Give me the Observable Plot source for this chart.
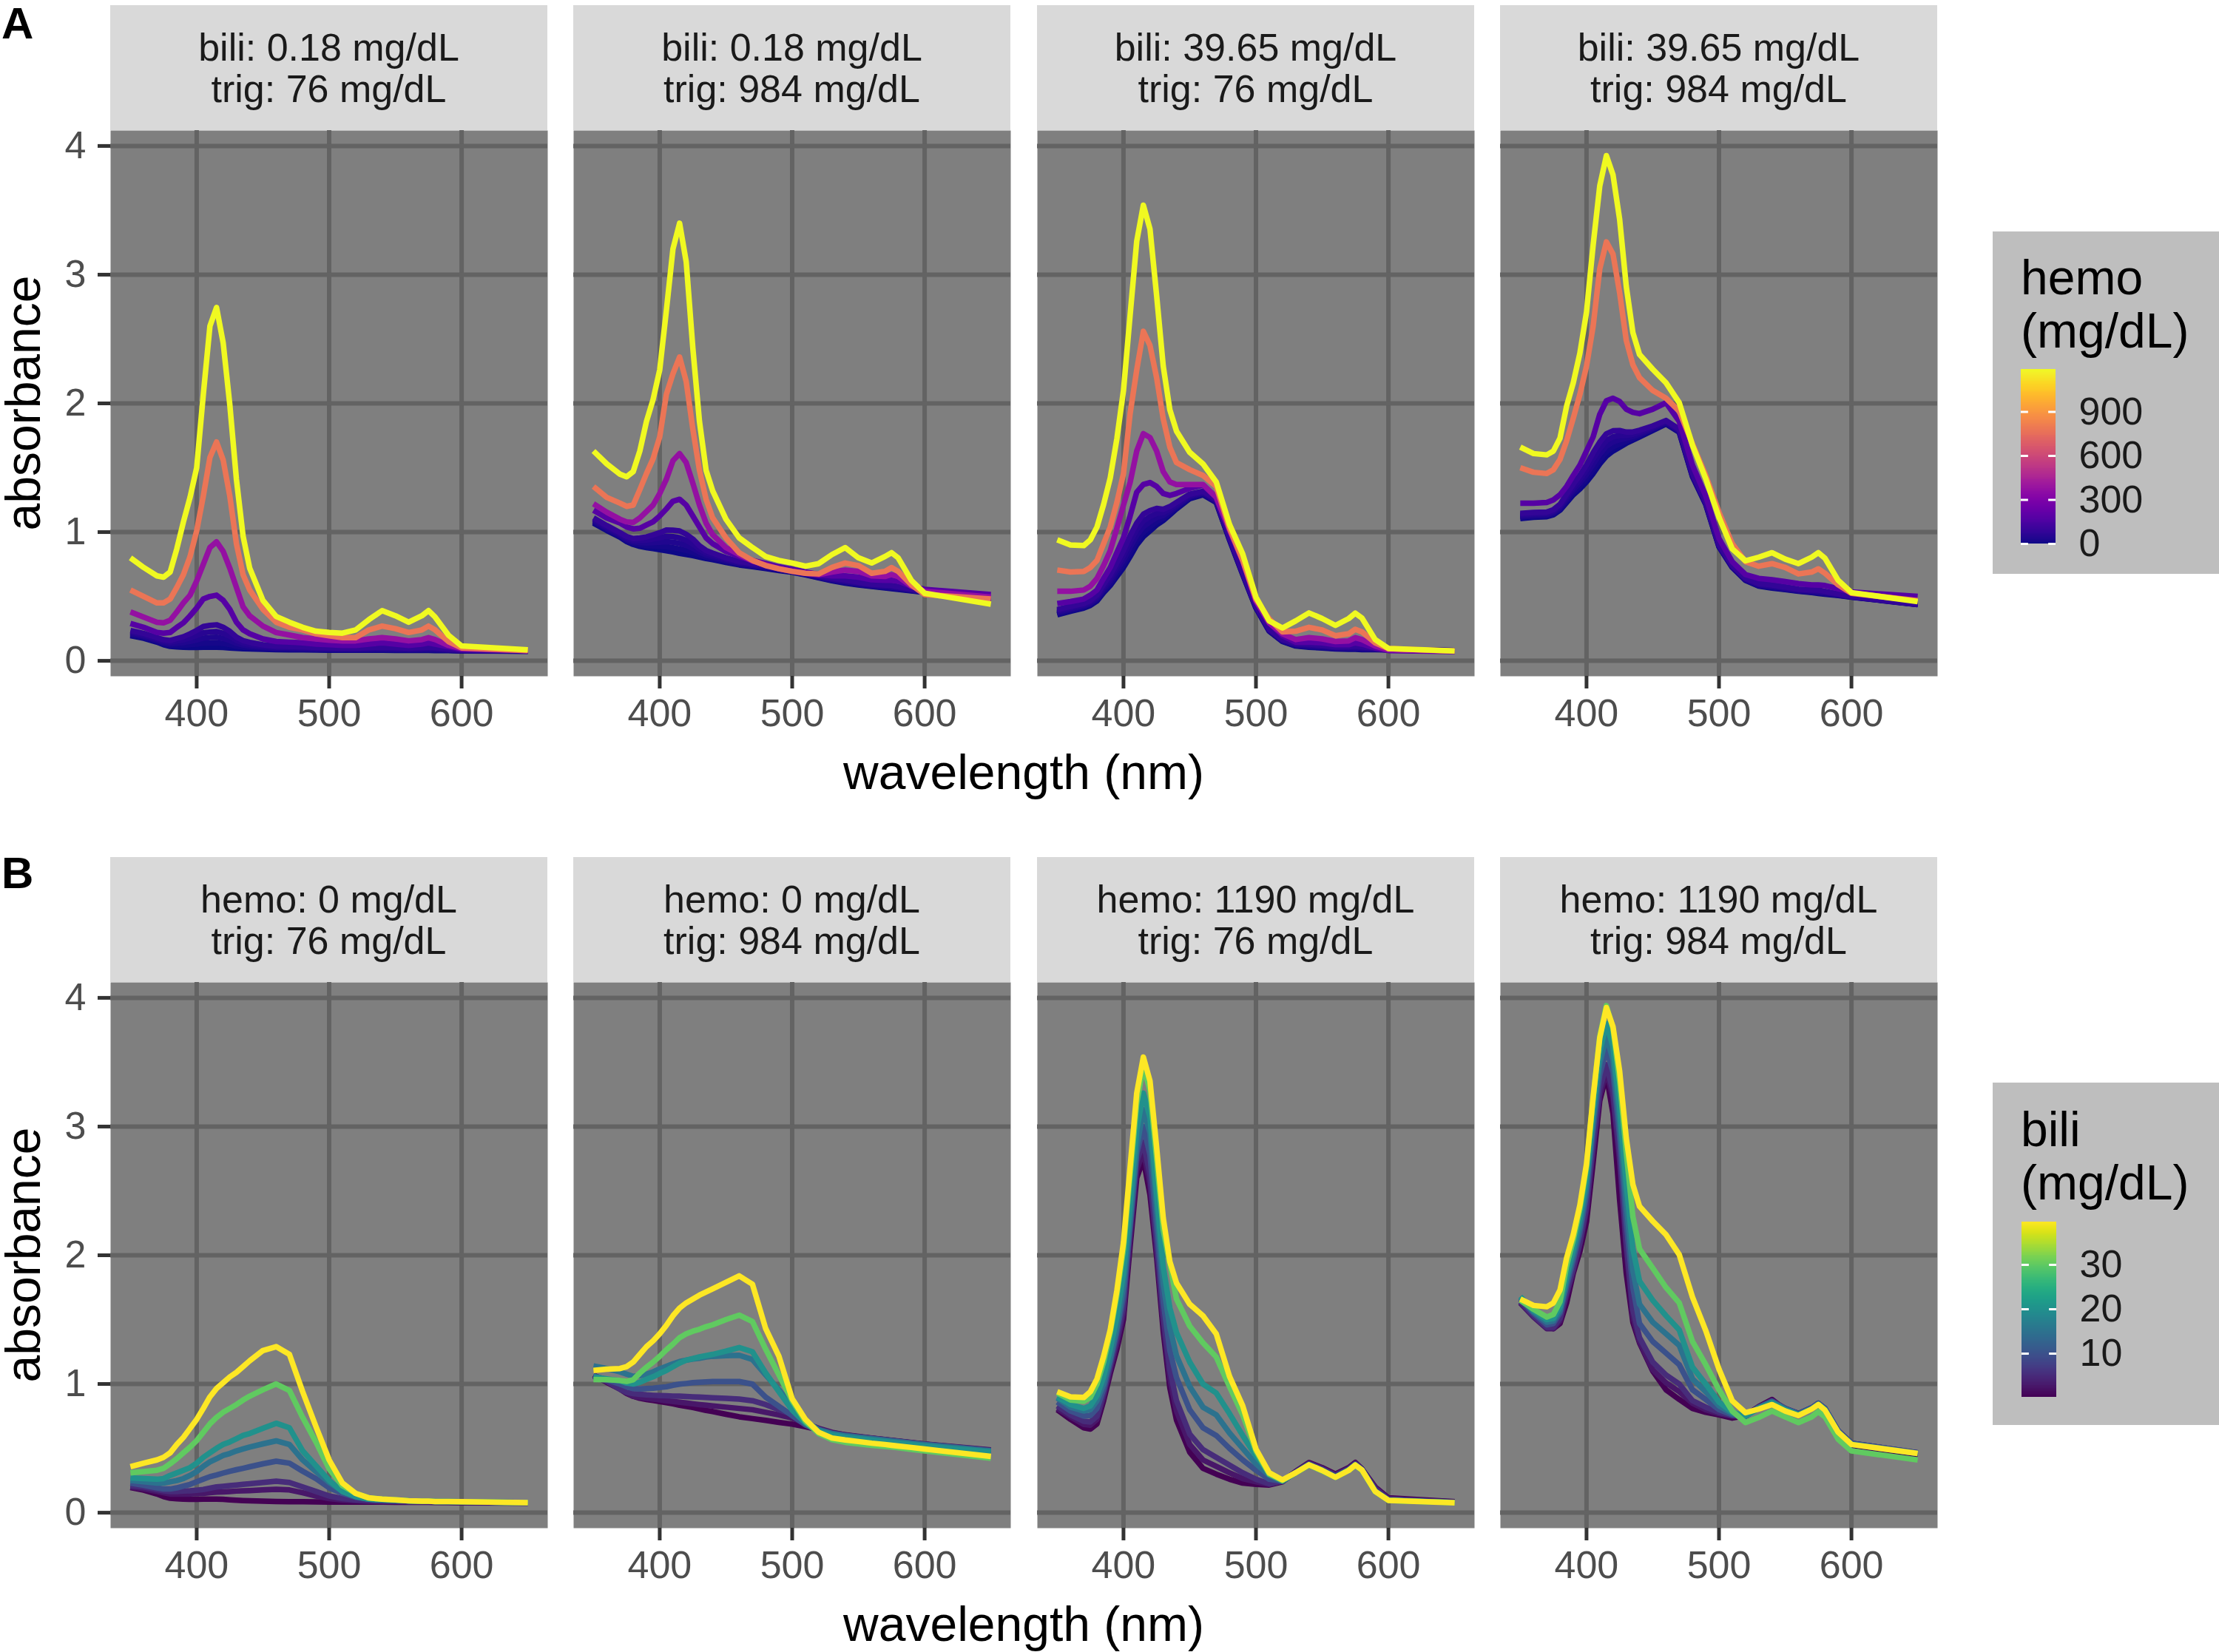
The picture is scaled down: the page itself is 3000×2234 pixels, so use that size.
<!DOCTYPE html>
<html>
<head>
<meta charset="utf-8">
<script src="https://cdn.jsdelivr.net/npm/d3@7"></script>
<script src="https://cdn.jsdelivr.net/npm/@observablehq/plot@0.6"></script>
<style>
  body { margin: 0; background: #ffffff; }
  #root { position: relative; width: 3000px; height: 2234px; overflow: hidden; background: #ffffff;
          font-family: "Liberation Sans", Arial, Helvetica, sans-serif; }
  .strip { position: absolute; background: #D9D9D9; color: #1A1A1A; font-size: 52px; line-height: 56px;
           text-align: center; display: flex; flex-direction: column; justify-content: center; }
  .txt { position: absolute; white-space: nowrap; color: #000; }
</style>
</head>
<body>
<div id="root"></div>
<script>
// ---------------- data ----------------
const wavelength = [350, 360, 370, 375, 380, 385, 390, 395, 400, 405, 410, 415, 420, 425, 430, 435, 440, 450, 460, 470, 480, 490, 500, 510, 520, 530, 540, 550, 560, 570, 575, 580, 590, 600, 650];
const hemoLevels = [0, 15, 35, 55, 80, 180, 370, 780, 1190];
const biliLevels = [0.18, 2.5, 5, 10, 15, 20, 30, 39.65];

const xTicks = [400, 500, 600];
const yTicks = [0, 1, 2, 3, 4];
const hemoTicks = [0, 300, 600, 900];
const biliTicks = [10, 20, 30];

const stripA_bili = ["0.18", "0.18", "39.65", "39.65"];
const stripA_trig = ["76", "984", "76", "984"];
const stripB_hemo = ["0", "0", "1190", "1190"];
const stripB_trig = ["76", "984", "76", "984"];

// samples shared between row A and row B (hemo / bili / trig)
const s_h0_b018_t76 = [0.195, 0.175, 0.145, 0.125, 0.112, 0.108, 0.105, 0.104, 0.104, 0.105, 0.106, 0.106, 0.104, 0.100, 0.097, 0.094, 0.092, 0.089, 0.087, 0.086, 0.085, 0.084, 0.083, 0.083, 0.082, 0.082, 0.082, 0.081, 0.081, 0.081, 0.081, 0.080, 0.079, 0.077, 0.075];
const s_h0_b018_t984 = [1.070, 1.013, 0.961, 0.927, 0.904, 0.889, 0.880, 0.872, 0.863, 0.855, 0.846, 0.835, 0.826, 0.817, 0.806, 0.794, 0.786, 0.765, 0.745, 0.731, 0.717, 0.702, 0.688, 0.668, 0.645, 0.622, 0.604, 0.590, 0.578, 0.567, 0.561, 0.555, 0.544, 0.532, 0.480];
const s_h0_b3965_t76 = [0.357, 0.385, 0.410, 0.430, 0.465, 0.530, 0.585, 0.655, 0.725, 0.810, 0.900, 0.965, 1.010, 1.055, 1.090, 1.135, 1.180, 1.260, 1.290, 1.230, 0.940, 0.670, 0.410, 0.230, 0.150, 0.115, 0.105, 0.100, 0.092, 0.090, 0.090, 0.087, 0.087, 0.085, 0.078];
const s_h0_b3965_t984 = [1.105, 1.115, 1.120, 1.135, 1.170, 1.230, 1.290, 1.335, 1.390, 1.455, 1.530, 1.590, 1.630, 1.660, 1.690, 1.715, 1.740, 1.790, 1.840, 1.775, 1.430, 1.215, 0.885, 0.725, 0.625, 0.580, 0.565, 0.553, 0.540, 0.530, 0.524, 0.518, 0.507, 0.495, 0.437];
const s_h1190_b018_t76 = [0.800, 0.725, 0.660, 0.650, 0.690, 0.870, 1.080, 1.270, 1.500, 2.070, 2.600, 2.745, 2.470, 1.990, 1.410, 0.970, 0.720, 0.470, 0.345, 0.300, 0.260, 0.230, 0.220, 0.215, 0.240, 0.320, 0.390, 0.350, 0.300, 0.350, 0.390, 0.340, 0.200, 0.115, 0.085];
const s_h1190_b018_t984 = [1.630, 1.530, 1.450, 1.430, 1.470, 1.630, 1.860, 2.030, 2.260, 2.720, 3.200, 3.400, 3.100, 2.430, 1.860, 1.480, 1.320, 1.100, 0.955, 0.880, 0.810, 0.780, 0.760, 0.735, 0.755, 0.825, 0.880, 0.800, 0.760, 0.810, 0.840, 0.800, 0.625, 0.525, 0.440];
const s_h1190_b3965_t76 = [0.940, 0.900, 0.895, 0.940, 1.040, 1.215, 1.420, 1.725, 2.100, 2.685, 3.260, 3.540, 3.355, 2.840, 2.290, 1.950, 1.785, 1.620, 1.530, 1.390, 1.060, 0.830, 0.495, 0.310, 0.255, 0.310, 0.372, 0.328, 0.275, 0.328, 0.370, 0.332, 0.165, 0.096, 0.077];
const s_h1190_b3965_t984 = [1.660, 1.610, 1.600, 1.630, 1.730, 1.980, 2.160, 2.390, 2.710, 3.230, 3.690, 3.925, 3.775, 3.430, 2.910, 2.550, 2.380, 2.265, 2.160, 2.005, 1.675, 1.415, 1.115, 0.870, 0.777, 0.805, 0.840, 0.790, 0.755, 0.805, 0.840, 0.797, 0.625, 0.530, 0.460];

// Row A, panel 1: bili 0.18, trig 76 (by hemo)
const a1_h15 = [0.203, 0.182, 0.152, 0.133, 0.121, 0.121, 0.121, 0.125, 0.130, 0.137, 0.139, 0.140, 0.135, 0.126, 0.114, 0.106, 0.102, 0.096, 0.092, 0.091, 0.090, 0.088, 0.087, 0.086, 0.085, 0.086, 0.087, 0.085, 0.084, 0.085, 0.086, 0.084, 0.082, 0.078, 0.075];
const a1_h35 = [0.213, 0.192, 0.161, 0.142, 0.133, 0.137, 0.141, 0.151, 0.162, 0.176, 0.181, 0.183, 0.174, 0.157, 0.136, 0.122, 0.114, 0.104, 0.099, 0.097, 0.095, 0.093, 0.091, 0.090, 0.089, 0.091, 0.093, 0.090, 0.088, 0.090, 0.092, 0.090, 0.085, 0.079, 0.076];
const a1_h55 = [0.224, 0.201, 0.170, 0.152, 0.144, 0.154, 0.162, 0.178, 0.196, 0.218, 0.224, 0.227, 0.214, 0.190, 0.158, 0.138, 0.127, 0.113, 0.106, 0.104, 0.102, 0.098, 0.096, 0.094, 0.093, 0.096, 0.099, 0.096, 0.093, 0.096, 0.099, 0.095, 0.088, 0.081, 0.077];
const a1_h80 = [0.236, 0.213, 0.180, 0.164, 0.158, 0.173, 0.187, 0.210, 0.236, 0.266, 0.275, 0.280, 0.261, 0.229, 0.184, 0.157, 0.143, 0.124, 0.114, 0.111, 0.109, 0.104, 0.101, 0.099, 0.098, 0.103, 0.107, 0.102, 0.098, 0.102, 0.106, 0.102, 0.092, 0.083, 0.077];
const a1_h180 = [0.290, 0.260, 0.220, 0.215, 0.220, 0.260, 0.295, 0.350, 0.410, 0.480, 0.500, 0.510, 0.470, 0.400, 0.300, 0.240, 0.210, 0.170, 0.150, 0.145, 0.140, 0.130, 0.125, 0.120, 0.120, 0.130, 0.140, 0.130, 0.120, 0.130, 0.140, 0.130, 0.110, 0.090, 0.080];
const a1_h370 = [0.380, 0.340, 0.300, 0.295, 0.315, 0.380, 0.450, 0.510, 0.620, 0.750, 0.880, 0.925, 0.850, 0.720, 0.570, 0.420, 0.350, 0.270, 0.220, 0.200, 0.180, 0.170, 0.160, 0.155, 0.155, 0.170, 0.180, 0.170, 0.155, 0.165, 0.180, 0.165, 0.120, 0.095, 0.080];
const a1_h780 = [0.550, 0.500, 0.450, 0.450, 0.480, 0.570, 0.670, 0.810, 1.010, 1.280, 1.580, 1.700, 1.560, 1.280, 0.910, 0.670, 0.550, 0.400, 0.300, 0.260, 0.240, 0.210, 0.195, 0.180, 0.180, 0.240, 0.270, 0.250, 0.220, 0.240, 0.270, 0.240, 0.150, 0.100, 0.080];

// Row A, panel 2: bili 0.18, trig 984
const a2_h15 = [1.078, 1.020, 0.968, 0.935, 0.913, 0.902, 0.896, 0.893, 0.889, 0.887, 0.879, 0.869, 0.857, 0.843, 0.823, 0.806, 0.796, 0.772, 0.750, 0.736, 0.722, 0.706, 0.692, 0.671, 0.648, 0.626, 0.609, 0.594, 0.581, 0.571, 0.566, 0.559, 0.547, 0.533, 0.480];
const a2_h35 = [1.088, 1.030, 0.977, 0.944, 0.925, 0.918, 0.916, 0.919, 0.921, 0.926, 0.921, 0.912, 0.896, 0.874, 0.845, 0.822, 0.808, 0.780, 0.757, 0.742, 0.727, 0.711, 0.696, 0.675, 0.652, 0.631, 0.615, 0.599, 0.585, 0.576, 0.572, 0.565, 0.550, 0.534, 0.481];
const a2_h55 = [1.099, 1.039, 0.986, 0.954, 0.936, 0.935, 0.937, 0.946, 0.955, 0.968, 0.964, 0.956, 0.936, 0.907, 0.867, 0.838, 0.821, 0.789, 0.764, 0.749, 0.734, 0.716, 0.701, 0.679, 0.656, 0.636, 0.621, 0.605, 0.590, 0.582, 0.579, 0.570, 0.553, 0.536, 0.482];
const a2_h80 = [1.111, 1.051, 0.996, 0.966, 0.950, 0.954, 0.962, 0.978, 0.995, 1.016, 1.015, 1.009, 0.983, 0.946, 0.893, 0.857, 0.837, 0.800, 0.772, 0.756, 0.741, 0.722, 0.706, 0.684, 0.661, 0.643, 0.629, 0.611, 0.595, 0.588, 0.586, 0.577, 0.557, 0.538, 0.482];
const a2_h180 = [1.170, 1.110, 1.070, 1.040, 1.025, 1.030, 1.055, 1.080, 1.125, 1.180, 1.240, 1.255, 1.210, 1.125, 1.040, 0.955, 0.910, 0.850, 0.810, 0.780, 0.755, 0.730, 0.710, 0.690, 0.670, 0.660, 0.660, 0.650, 0.630, 0.625, 0.625, 0.620, 0.580, 0.555, 0.515];
const a2_h370 = [1.220, 1.155, 1.100, 1.080, 1.075, 1.110, 1.160, 1.210, 1.300, 1.410, 1.555, 1.610, 1.540, 1.380, 1.210, 1.070, 0.980, 0.880, 0.825, 0.775, 0.745, 0.715, 0.695, 0.680, 0.670, 0.690, 0.705, 0.695, 0.660, 0.655, 0.670, 0.655, 0.580, 0.540, 0.495];
const a2_h780 = [1.355, 1.270, 1.225, 1.200, 1.210, 1.330, 1.455, 1.570, 1.740, 2.070, 2.230, 2.360, 2.170, 1.800, 1.480, 1.255, 1.110, 0.955, 0.840, 0.780, 0.740, 0.715, 0.695, 0.680, 0.675, 0.725, 0.760, 0.740, 0.680, 0.695, 0.725, 0.695, 0.590, 0.515, 0.480];

// Row A, panel 3: bili 39.65, trig 76
const a3_h15 = [0.365, 0.392, 0.417, 0.438, 0.474, 0.543, 0.601, 0.676, 0.751, 0.842, 0.933, 0.999, 1.041, 1.081, 1.107, 1.147, 1.190, 1.267, 1.295, 1.235, 0.945, 0.675, 0.414, 0.233, 0.153, 0.119, 0.110, 0.104, 0.095, 0.094, 0.095, 0.091, 0.090, 0.086, 0.078];
const a3_h35 = [0.375, 0.402, 0.426, 0.447, 0.486, 0.559, 0.621, 0.702, 0.783, 0.881, 0.975, 1.042, 1.080, 1.112, 1.129, 1.163, 1.202, 1.275, 1.302, 1.241, 0.950, 0.679, 0.418, 0.237, 0.157, 0.124, 0.116, 0.109, 0.099, 0.099, 0.101, 0.097, 0.093, 0.087, 0.079];
const a3_h55 = [0.386, 0.411, 0.435, 0.457, 0.497, 0.576, 0.642, 0.729, 0.817, 0.923, 1.018, 1.086, 1.120, 1.145, 1.151, 1.179, 1.215, 1.284, 1.309, 1.248, 0.957, 0.684, 0.423, 0.241, 0.161, 0.129, 0.122, 0.115, 0.104, 0.105, 0.108, 0.102, 0.096, 0.089, 0.080];
const a3_h80 = [0.398, 0.423, 0.445, 0.469, 0.511, 0.595, 0.667, 0.761, 0.857, 0.971, 1.069, 1.139, 1.167, 1.184, 1.177, 1.198, 1.231, 1.295, 1.317, 1.255, 0.964, 0.690, 0.428, 0.246, 0.166, 0.136, 0.130, 0.121, 0.109, 0.111, 0.115, 0.109, 0.100, 0.091, 0.080];
const a3_h180 = [0.445, 0.460, 0.480, 0.510, 0.550, 0.640, 0.725, 0.840, 0.955, 1.125, 1.310, 1.370, 1.385, 1.355, 1.300, 1.285, 1.300, 1.340, 1.365, 1.270, 1.010, 0.770, 0.465, 0.295, 0.195, 0.145, 0.145, 0.140, 0.125, 0.125, 0.140, 0.130, 0.100, 0.080, 0.072];
const a3_h370 = [0.540, 0.540, 0.550, 0.580, 0.640, 0.740, 0.855, 1.030, 1.210, 1.385, 1.630, 1.765, 1.735, 1.630, 1.470, 1.390, 1.370, 1.370, 1.370, 1.270, 1.020, 0.780, 0.465, 0.295, 0.210, 0.165, 0.180, 0.170, 0.150, 0.155, 0.180, 0.165, 0.115, 0.085, 0.075];
const a3_h780 = [0.705, 0.690, 0.695, 0.725, 0.780, 0.910, 1.040, 1.230, 1.455, 1.920, 2.260, 2.560, 2.450, 2.200, 1.880, 1.660, 1.540, 1.485, 1.440, 1.355, 1.030, 0.780, 0.480, 0.325, 0.225, 0.230, 0.260, 0.240, 0.195, 0.210, 0.245, 0.225, 0.140, 0.095, 0.075];

// Row A, panel 4: bili 39.65, trig 984 (no 370 mg/dL curve)
const a4_h15 = [1.113, 1.122, 1.127, 1.143, 1.179, 1.243, 1.306, 1.356, 1.416, 1.487, 1.563, 1.624, 1.661, 1.686, 1.707, 1.727, 1.750, 1.797, 1.845, 1.780, 1.435, 1.219, 0.889, 0.728, 0.628, 0.584, 0.570, 0.557, 0.543, 0.534, 0.529, 0.522, 0.510, 0.496, 0.437];
const a4_h35 = [1.123, 1.132, 1.136, 1.152, 1.191, 1.259, 1.326, 1.382, 1.448, 1.526, 1.605, 1.667, 1.700, 1.717, 1.729, 1.743, 1.762, 1.805, 1.852, 1.786, 1.440, 1.223, 0.893, 0.732, 0.632, 0.589, 0.576, 0.562, 0.547, 0.539, 0.535, 0.528, 0.513, 0.497, 0.438];
const a4_h55 = [1.134, 1.141, 1.145, 1.162, 1.202, 1.276, 1.347, 1.409, 1.482, 1.568, 1.648, 1.711, 1.740, 1.750, 1.751, 1.759, 1.775, 1.814, 1.859, 1.793, 1.447, 1.229, 0.898, 0.736, 0.636, 0.594, 0.582, 0.568, 0.552, 0.545, 0.542, 0.533, 0.516, 0.499, 0.439];
const a4_h80 = [1.146, 1.153, 1.155, 1.174, 1.216, 1.295, 1.372, 1.441, 1.522, 1.616, 1.699, 1.764, 1.787, 1.789, 1.777, 1.778, 1.791, 1.825, 1.867, 1.800, 1.454, 1.235, 0.903, 0.741, 0.641, 0.601, 0.590, 0.574, 0.557, 0.551, 0.549, 0.540, 0.520, 0.501, 0.439];
const a4_h180 = [1.225, 1.225, 1.230, 1.250, 1.290, 1.355, 1.440, 1.520, 1.630, 1.740, 1.915, 2.020, 2.040, 2.015, 1.955, 1.930, 1.920, 1.955, 2.005, 1.860, 1.520, 1.280, 0.950, 0.770, 0.670, 0.640, 0.630, 0.615, 0.600, 0.590, 0.590, 0.585, 0.560, 0.535, 0.500];
const a4_h780 = [1.500, 1.465, 1.455, 1.485, 1.565, 1.710, 1.885, 2.070, 2.290, 2.600, 3.045, 3.255, 3.160, 2.860, 2.490, 2.300, 2.200, 2.100, 2.040, 1.940, 1.685, 1.440, 1.155, 0.910, 0.770, 0.735, 0.755, 0.725, 0.675, 0.690, 0.715, 0.680, 0.590, 0.525, 0.467];

// Row B, panel 1: hemo 0, trig 76 (by bili)
const b1_b2_5 = [0.200, 0.185, 0.165, 0.155, 0.145, 0.145, 0.145, 0.145, 0.148, 0.150, 0.155, 0.160, 0.162, 0.165, 0.168, 0.170, 0.172, 0.177, 0.182, 0.177, 0.155, 0.130, 0.110, 0.098, 0.093, 0.088, 0.086, 0.085, 0.084, 0.083, 0.083, 0.082, 0.081, 0.079, 0.076];
const b1_b5 = [0.210, 0.200, 0.180, 0.170, 0.165, 0.165, 0.168, 0.170, 0.175, 0.180, 0.190, 0.200, 0.205, 0.210, 0.215, 0.220, 0.225, 0.235, 0.245, 0.235, 0.200, 0.165, 0.130, 0.110, 0.100, 0.095, 0.090, 0.088, 0.086, 0.085, 0.085, 0.084, 0.083, 0.081, 0.077];
const b1_b10 = [0.230, 0.213, 0.193, 0.184, 0.184, 0.193, 0.207, 0.220, 0.240, 0.260, 0.280, 0.293, 0.308, 0.322, 0.334, 0.345, 0.357, 0.380, 0.400, 0.385, 0.322, 0.265, 0.193, 0.150, 0.120, 0.105, 0.100, 0.097, 0.092, 0.090, 0.090, 0.087, 0.087, 0.085, 0.078];
const b1_b15 = [0.250, 0.240, 0.230, 0.230, 0.240, 0.250, 0.265, 0.290, 0.320, 0.360, 0.395, 0.420, 0.445, 0.460, 0.480, 0.495, 0.510, 0.535, 0.558, 0.530, 0.410, 0.320, 0.235, 0.165, 0.125, 0.105, 0.100, 0.097, 0.092, 0.090, 0.090, 0.087, 0.087, 0.085, 0.078];
const b1_b20 = [0.270, 0.265, 0.260, 0.265, 0.290, 0.310, 0.330, 0.350, 0.385, 0.430, 0.465, 0.500, 0.530, 0.550, 0.575, 0.600, 0.615, 0.655, 0.695, 0.660, 0.480, 0.365, 0.250, 0.165, 0.125, 0.105, 0.100, 0.097, 0.092, 0.090, 0.090, 0.087, 0.087, 0.085, 0.078];
const b1_b30 = [0.310, 0.320, 0.330, 0.345, 0.380, 0.420, 0.465, 0.510, 0.560, 0.625, 0.690, 0.740, 0.780, 0.810, 0.840, 0.875, 0.905, 0.955, 1.000, 0.950, 0.740, 0.550, 0.340, 0.210, 0.150, 0.115, 0.105, 0.100, 0.092, 0.090, 0.090, 0.087, 0.087, 0.085, 0.078];

// Row B, panel 2: hemo 0, trig 984
const b2_b2_5 = [1.060, 1.020, 0.960, 0.930, 0.905, 0.895, 0.888, 0.882, 0.876, 0.870, 0.864, 0.858, 0.852, 0.846, 0.840, 0.835, 0.830, 0.820, 0.810, 0.800, 0.780, 0.760, 0.735, 0.695, 0.655, 0.625, 0.605, 0.593, 0.580, 0.568, 0.562, 0.556, 0.545, 0.534, 0.487];
const b2_b5 = [1.065, 1.020, 0.960, 0.935, 0.925, 0.920, 0.915, 0.912, 0.910, 0.908, 0.906, 0.905, 0.902, 0.900, 0.898, 0.896, 0.893, 0.888, 0.882, 0.870, 0.840, 0.800, 0.765, 0.700, 0.650, 0.617, 0.600, 0.590, 0.578, 0.566, 0.560, 0.555, 0.543, 0.532, 0.485];
const b2_b10 = [1.065, 1.033, 0.999, 0.978, 0.964, 0.961, 0.964, 0.967, 0.973, 0.978, 0.990, 0.999, 1.004, 1.010, 1.013, 1.016, 1.019, 1.019, 1.019, 0.999, 0.898, 0.826, 0.754, 0.682, 0.633, 0.610, 0.593, 0.581, 0.570, 0.558, 0.553, 0.547, 0.536, 0.524, 0.478];
const b2_b15 = [1.140, 1.120, 1.094, 1.076, 1.059, 1.065, 1.076, 1.094, 1.117, 1.137, 1.157, 1.174, 1.185, 1.194, 1.200, 1.210, 1.215, 1.220, 1.223, 1.190, 1.070, 0.955, 0.826, 0.710, 0.645, 0.616, 0.600, 0.587, 0.576, 0.564, 0.558, 0.553, 0.541, 0.530, 0.480];
const b2_b20 = [1.056, 1.040, 1.025, 1.007, 1.000, 1.013, 1.036, 1.056, 1.082, 1.105, 1.134, 1.163, 1.185, 1.197, 1.210, 1.220, 1.230, 1.255, 1.283, 1.250, 1.085, 0.940, 0.797, 0.696, 0.633, 0.604, 0.587, 0.575, 0.564, 0.553, 0.547, 0.541, 0.530, 0.518, 0.472];
const b2_b30 = [1.035, 1.033, 1.027, 1.020, 1.033, 1.085, 1.130, 1.170, 1.215, 1.265, 1.310, 1.360, 1.390, 1.410, 1.425, 1.445, 1.460, 1.500, 1.535, 1.485, 1.270, 1.070, 0.870, 0.710, 0.615, 0.567, 0.547, 0.535, 0.524, 0.515, 0.510, 0.504, 0.492, 0.480, 0.423];

// Row B, panel 3: hemo 1190, trig 76
const b3_b2_5 = [0.810, 0.745, 0.685, 0.680, 0.725, 0.900, 1.110, 1.310, 1.550, 2.130, 2.660, 2.810, 2.550, 2.050, 1.470, 1.040, 0.790, 0.530, 0.410, 0.360, 0.310, 0.265, 0.240, 0.220, 0.245, 0.320, 0.385, 0.345, 0.295, 0.345, 0.385, 0.340, 0.195, 0.110, 0.083];
const b3_b5 = [0.830, 0.760, 0.710, 0.705, 0.750, 0.930, 1.140, 1.350, 1.600, 2.190, 2.730, 2.880, 2.620, 2.100, 1.530, 1.110, 0.870, 0.610, 0.490, 0.430, 0.370, 0.310, 0.260, 0.225, 0.245, 0.315, 0.380, 0.340, 0.290, 0.340, 0.380, 0.338, 0.185, 0.105, 0.081];
const b3_b10 = [0.860, 0.790, 0.750, 0.755, 0.810, 0.960, 1.170, 1.400, 1.680, 2.230, 2.790, 3.000, 2.780, 2.220, 1.640, 1.260, 1.050, 0.800, 0.660, 0.600, 0.500, 0.410, 0.330, 0.260, 0.245, 0.312, 0.376, 0.332, 0.280, 0.333, 0.374, 0.335, 0.170, 0.098, 0.079];
const b3_b15 = [0.890, 0.820, 0.790, 0.800, 0.870, 1.000, 1.200, 1.440, 1.760, 2.270, 2.840, 3.130, 2.950, 2.360, 1.780, 1.440, 1.220, 0.980, 0.820, 0.760, 0.620, 0.500, 0.380, 0.290, 0.245, 0.310, 0.373, 0.329, 0.277, 0.330, 0.371, 0.333, 0.166, 0.097, 0.078];
const b3_b20 = [0.900, 0.840, 0.810, 0.830, 0.910, 1.055, 1.270, 1.520, 1.860, 2.390, 2.970, 3.260, 3.070, 2.480, 1.910, 1.590, 1.400, 1.170, 1.000, 0.930, 0.770, 0.600, 0.440, 0.310, 0.250, 0.310, 0.372, 0.328, 0.275, 0.330, 0.370, 0.332, 0.165, 0.096, 0.078];
const b3_b30 = [0.930, 0.875, 0.865, 0.895, 1.000, 1.170, 1.400, 1.690, 2.050, 2.620, 3.180, 3.470, 3.280, 2.750, 2.200, 1.930, 1.660, 1.450, 1.320, 1.210, 0.980, 0.760, 0.480, 0.300, 0.250, 0.310, 0.370, 0.325, 0.275, 0.330, 0.370, 0.330, 0.165, 0.096, 0.078];

// Row B, panel 4: hemo 1190, trig 984
const b4_b2_5 = [1.630, 1.520, 1.430, 1.430, 1.490, 1.690, 1.880, 2.080, 2.350, 2.820, 3.240, 3.430, 3.220, 2.730, 2.050, 1.520, 1.330, 1.110, 1.010, 0.940, 0.850, 0.800, 0.770, 0.750, 0.750, 0.820, 0.870, 0.810, 0.770, 0.815, 0.850, 0.810, 0.635, 0.540, 0.465];
const b4_b5 = [1.640, 1.530, 1.440, 1.440, 1.510, 1.710, 1.900, 2.100, 2.380, 2.860, 3.290, 3.480, 3.270, 2.780, 2.100, 1.580, 1.360, 1.170, 1.070, 1.000, 0.870, 0.820, 0.780, 0.755, 0.750, 0.820, 0.870, 0.810, 0.770, 0.815, 0.850, 0.810, 0.635, 0.540, 0.465];
const b4_b10 = [1.660, 1.550, 1.460, 1.470, 1.550, 1.760, 1.960, 2.170, 2.470, 2.970, 3.400, 3.600, 3.420, 2.920, 2.250, 1.750, 1.470, 1.330, 1.240, 1.150, 0.955, 0.880, 0.800, 0.760, 0.750, 0.820, 0.865, 0.810, 0.770, 0.815, 0.850, 0.810, 0.635, 0.540, 0.465];
const b4_b15 = [1.670, 1.560, 1.480, 1.490, 1.570, 1.800, 2.000, 2.220, 2.530, 3.040, 3.490, 3.700, 3.520, 3.030, 2.400, 1.880, 1.620, 1.480, 1.390, 1.300, 1.040, 0.940, 0.830, 0.770, 0.750, 0.815, 0.860, 0.805, 0.765, 0.810, 0.845, 0.805, 0.630, 0.535, 0.460];
const b4_b20 = [1.680, 1.570, 1.500, 1.510, 1.600, 1.840, 2.050, 2.280, 2.600, 3.120, 3.580, 3.800, 3.620, 3.150, 2.550, 2.050, 1.800, 1.650, 1.530, 1.420, 1.130, 1.000, 0.860, 0.780, 0.750, 0.810, 0.855, 0.800, 0.760, 0.805, 0.840, 0.800, 0.625, 0.530, 0.460];
const b4_b30 = [1.650, 1.580, 1.520, 1.540, 1.640, 1.920, 2.120, 2.360, 2.690, 3.220, 3.700, 3.940, 3.760, 3.350, 2.800, 2.300, 2.050, 1.900, 1.750, 1.630, 1.330, 1.150, 0.955, 0.790, 0.700, 0.740, 0.790, 0.745, 0.700, 0.745, 0.785, 0.745, 0.570, 0.480, 0.410];

// series per panel, ordered like hemoLevels / biliLevels
const panelA1 = [s_h0_b018_t76, a1_h15, a1_h35, a1_h55, a1_h80, a1_h180, a1_h370, a1_h780, s_h1190_b018_t76];
const panelA2 = [s_h0_b018_t984, a2_h15, a2_h35, a2_h55, a2_h80, a2_h180, a2_h370, a2_h780, s_h1190_b018_t984];
const panelA3 = [s_h0_b3965_t76, a3_h15, a3_h35, a3_h55, a3_h80, a3_h180, a3_h370, a3_h780, s_h1190_b3965_t76];
const panelA4 = [s_h0_b3965_t984, a4_h15, a4_h35, a4_h55, a4_h80, a4_h180, null, a4_h780, s_h1190_b3965_t984];
const panelB1 = [s_h0_b018_t76, b1_b2_5, b1_b5, b1_b10, b1_b15, b1_b20, b1_b30, s_h0_b3965_t76];
const panelB2 = [s_h0_b018_t984, b2_b2_5, b2_b5, b2_b10, b2_b15, b2_b20, b2_b30, s_h0_b3965_t984];
const panelB3 = [s_h1190_b018_t76, b3_b2_5, b3_b5, b3_b10, b3_b15, b3_b20, b3_b30, s_h1190_b3965_t76];
const panelB4 = [s_h1190_b018_t984, b4_b2_5, b4_b5, b4_b10, b4_b15, b4_b20, b4_b30, s_h1190_b3965_t984];

// ---------------- layout ----------------
const FONT = '"Liberation Sans", Arial, Helvetica, sans-serif';
const root = document.getElementById("root");
const panelLefts = [149, 775, 1402, 2028];
const PW = 591, PH = 738;
const rowTops = [176, 1328];
const stripTops = [7, 1159];
const MT = 30, MB = 110, ML = 149;

function rowsFor(levels, series) {
  const out = [];
  levels.forEach((lv, i) => {
    const s = series[i];
    if (!s) return;
    if (s.length !== wavelength.length) throw new Error("length mismatch at level " + lv + ": " + s.length);
    wavelength.forEach((w, j) => out.push({wl: w, abs: s[j], level: lv}));
  });
  return out;
}

function place(el, left, top) {
  const d = document.createElement("div");
  d.style.position = "absolute";
  d.style.left = left + "px";
  d.style.top = top + "px";
  d.appendChild(el);
  root.appendChild(d);
  return d;
}
function text(str, left, top, css) {
  const d = document.createElement("div");
  d.className = "txt";
  d.textContent = str;
  d.style.left = left + "px";
  d.style.top = top + "px";
  Object.assign(d.style, css || {});
  root.appendChild(d);
  return d;
}

function panelPlot(rows, color, showY) {
  const marks = [
    Plot.frame({fill: "#7F7F7F", stroke: "none"}),
    Plot.gridX(xTicks, {stroke: "#636363", strokeOpacity: 1, strokeWidth: 6}),
    Plot.gridY(yTicks, {stroke: "#636363", strokeOpacity: 1, strokeWidth: 6}),
    Plot.line(rows, {x: "wl", y: "abs", z: "level", stroke: "level", strokeWidth: 7.5,
                     strokeLinejoin: "round", strokeLinecap: "butt"}),
    Plot.axisX(xTicks, {tickSize: 17, tickPadding: 14, fontSize: 52, stroke: "#333333",
                        strokeWidth: 5, fill: "#4D4D4D", label: null, tickFormat: d => String(d)})
  ];
  if (showY) {
    marks.push(Plot.axisY(yTicks, {tickSize: 17, tickPadding: 16, fontSize: 52, stroke: "#333333",
                                   strokeWidth: 5, fill: "#4D4D4D", label: null, tickFormat: d => String(d)}));
  }
  return Plot.plot({
    width: (showY ? ML : 0) + PW,
    height: PH + MT + MB,
    marginLeft: showY ? ML : 0,
    marginRight: 0,
    marginTop: MT,
    marginBottom: MB,
    style: {fontFamily: FONT, background: "transparent", overflow: "visible", maxWidth: "none"},
    x: {domain: [335, 665]},
    y: showY ? {domain: [-0.12, 4.12]} : {domain: [-0.12, 4.12], axis: null},
    color: color,
    marks
  });
}

function legendBar(domain, scheme, ticks, barH, y0, y1) {
  const n = 120;
  const bins = d3.range(n).map(i => {
    const lo = domain[0] + (domain[1] - domain[0]) * i / n;
    const hi = domain[0] + (domain[1] - domain[0]) * (i + 1) / n;
    return {lo, hi, mid: (lo + hi) / 2};
  });
  const pad = 40;
  return Plot.plot({
    width: 200, height: barH + 2 * pad,
    margin: 0,
    style: {fontFamily: FONT, background: "transparent", overflow: "visible", maxWidth: "none"},
    x: {domain: [0, 1], range: [0, 47], axis: null},
    y: {domain, range: [pad + y0, pad + y1], axis: null},
    color: {type: "linear", scheme, domain},
    marks: [
      Plot.rect(bins, {x1: 0, x2: 1, y1: "lo", y2: "hi", fill: "mid", shapeRendering: "crispEdges"}),
      Plot.ruleY(ticks, {x1: 0, x2: 0.21, stroke: "white", strokeWidth: 3}),
      Plot.ruleY(ticks, {x1: 0.79, x2: 1, stroke: "white", strokeWidth: 3}),
      Plot.text(ticks, {x: 1, y: d => d, dx: 31, textAnchor: "start", text: d => String(d),
                        fontSize: 52, fill: "#1A1A1A"})
    ]
  });
}

try {
  const hemoColor = {type: "linear", scheme: "plasma", domain: [0, 1190]};
  const biliColor = {type: "linear", scheme: "viridis", domain: [0.18, 39.65]};
  const rowA = [panelA1, panelA2, panelA3, panelA4];
  const rowB = [panelB1, panelB2, panelB3, panelB4];

  rowA.forEach((series, i) => {
    const showY = i === 0;
    const svg = panelPlot(rowsFor(hemoLevels, series), hemoColor, showY);
    place(svg, showY ? 0 : panelLefts[i], rowTops[0] - MT);
  });
  rowB.forEach((series, i) => {
    const showY = i === 0;
    const svg = panelPlot(rowsFor(biliLevels, series), biliColor, showY);
    place(svg, showY ? 0 : panelLefts[i], rowTops[1] - MT);
  });

  // strips
  for (let i = 0; i < 4; i++) {
    const sA = document.createElement("div");
    sA.className = "strip";
    Object.assign(sA.style, {left: panelLefts[i] + "px", top: stripTops[0] + "px", width: PW + "px", height: (rowTops[0] - stripTops[0]) + "px"});
    sA.innerHTML = `<div>bili: ${stripA_bili[i]} mg/dL</div><div>trig: ${stripA_trig[i]} mg/dL</div>`;
    root.appendChild(sA);
    const sB = document.createElement("div");
    sB.className = "strip";
    Object.assign(sB.style, {left: panelLefts[i] + "px", top: stripTops[1] + "px", width: PW + "px", height: (rowTops[1] - stripTops[1]) + "px"});
    sB.innerHTML = `<div>hemo: ${stripB_hemo[i]} mg/dL</div><div>trig: ${stripB_trig[i]} mg/dL</div>`;
    root.appendChild(sB);
  }

  // axis titles
  const xCenter = (panelLefts[0] + panelLefts[3] + PW) / 2;
  [1011, 2163].forEach(t => {
    text("wavelength (nm)", xCenter, t, {fontSize: "66px", lineHeight: "66px", transform: "translateX(-50%)"});
  });
  [rowTops[0] + PH / 2, rowTops[1] + PH / 2].forEach(cy => {
    text("absorbance", 6, cy, {fontSize: "66px", lineHeight: "50px", writingMode: "vertical-rl",
                              transform: "translateY(-50%) rotate(180deg)"});
  });

  // panel tags
  text("A", 2, 6, {fontSize: "60px", lineHeight: "52px", fontWeight: "900"});
  text("B", 2, 1155, {fontSize: "60px", lineHeight: "52px", fontWeight: "900"});

  // legends
  const boxes = [{top: 313, h: 463}, {top: 1464, h: 463}];
  boxes.forEach(b => {
    const d = document.createElement("div");
    Object.assign(d.style, {position: "absolute", left: "2694px", top: b.top + "px", width: "306px", height: b.h + "px", background: "#BEBEBE"});
    root.appendChild(d);
  });
  text("hemo", 2732, 339, {fontSize: "66px", lineHeight: "72px"});
  text("(mg/dL)", 2732, 411, {fontSize: "66px", lineHeight: "72px"});
  text("bili", 2732, 1491, {fontSize: "66px", lineHeight: "72px"});
  text("(mg/dL)", 2732, 1563, {fontSize: "66px", lineHeight: "72px"});

  // hemo bar: 499..737
  place(legendBar([0, 1190], "plasma", hemoTicks, 238, 236, 0), 2732, 499 - 40);
  // bili bar: 1652..1889
  place(legendBar([0.18, 39.65], "viridis", biliTicks, 237, 237, 0), 2733, 1652 - 40);
} catch (e) {
  const p = document.createElement("pre");
  p.style.cssText = "position:absolute;left:10px;top:10px;color:red;font-size:30px;z-index:9";
  p.textContent = String(e && e.stack || e);
  root.appendChild(p);
}
</script>
</body>
</html>
